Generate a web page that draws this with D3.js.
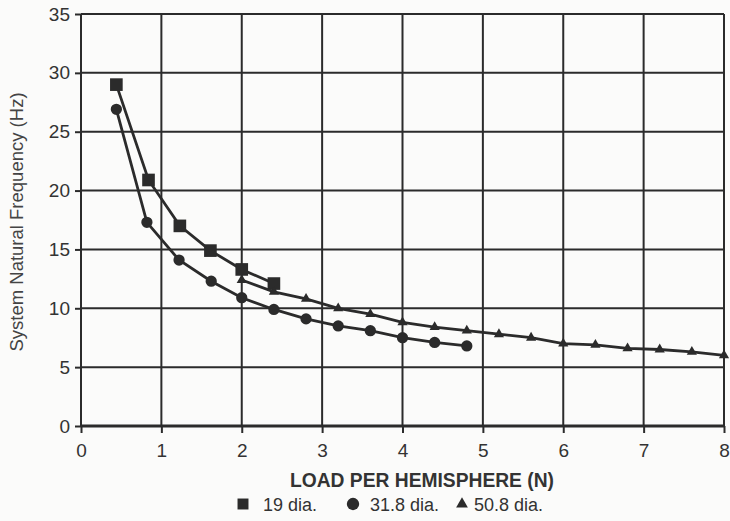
<!DOCTYPE html>
<html>
<head>
<meta charset="utf-8">
<script src="https://cdn.jsdelivr.net/npm/d3@7"></script>
<style>
  html, body { margin: 0; padding: 0; background: #fbfbfa; }
  svg { display: block; }
</style>
</head>
<body>
<figure id="chart" style="margin:0"></figure>
<script>
// values
const xTicks = [0, 1, 2, 3, 4, 5, 6, 7, 8];
const yTicks = [0, 5, 10, 15, 20, 25, 30, 35];

const seriesNames = ["19 dia.", "31.8 dia.", "50.8 dia."];

const loadSmall = [0.44, 0.84, 1.23, 1.61, 2.0, 2.4];
const freqSmall = [29.0, 20.9, 17.0, 14.9, 13.3, 12.1];

const loadMid = [0.44, 0.82, 1.22, 1.62, 2.0, 2.4, 2.8, 3.2, 3.6, 4.0, 4.4, 4.8];
const freqMid = [26.9, 17.3, 14.1, 12.3, 10.9, 9.9, 9.1, 8.5, 8.1, 7.5, 7.1, 6.8];

const loadLarge = [2.0, 2.4, 2.8, 3.2, 3.6, 4.0, 4.4, 4.8, 5.2, 5.6, 6.0, 6.4, 6.8, 7.2, 7.6, 8.0];
const freqLarge = [12.4, 11.4, 10.8, 10.0, 9.5, 8.8, 8.4, 8.1, 7.8, 7.5, 7.0, 6.9, 6.6, 6.5, 6.3, 6.0];

const width = 730, height = 521;
const plotLeft = 81, plotRight = 724, plotTop = 14, plotBottom = 426;
const ink = "#2b2b2b";
const narrow = "'Liberation Sans Narrow', 'Arial Narrow', 'Liberation Sans', sans-serif";

const svg = d3.select("#chart").append("svg")
  .attr("width", width)
  .attr("height", height)
  .style("font-family", "'Liberation Sans', Arial, sans-serif");

const x = d3.scaleLinear().domain([0, 8]).range([plotLeft, plotRight]);
const y = d3.scaleLinear().domain([0, 35]).range([plotBottom, plotTop]);

// grid
svg.append("g")
  .selectAll("line.v")
  .data(xTicks)
  .enter().append("line")
  .attr("x1", d => x(d)).attr("x2", d => x(d))
  .attr("y1", y(35)).attr("y2", y(0))
  .attr("stroke", ink).attr("stroke-width", 2);

svg.append("g")
  .selectAll("line.h")
  .data(yTicks)
  .enter().append("line")
  .attr("x1", x(0)).attr("x2", x(8))
  .attr("y1", d => y(d)).attr("y2", d => y(d))
  .attr("stroke", ink).attr("stroke-width", d => d === 0 ? 3 : 2);

// axes (ticks + labels only)
const xAxis = svg.append("g")
  .attr("transform", "translate(0," + y(0) + ")")
  .call(d3.axisBottom(x).tickValues(xTicks).tickSize(7).tickPadding(11).tickFormat(d3.format("d")));
xAxis.select(".domain").remove();
xAxis.selectAll("line").attr("stroke", ink).attr("stroke-width", 2);
xAxis.selectAll("text").attr("fill", "#333").style("font-size", "19px");

const yAxis = svg.append("g")
  .attr("transform", "translate(" + x(0) + ",0)")
  .call(d3.axisLeft(y).tickValues(yTicks).tickSize(6).tickPadding(5).tickFormat(d3.format("d")));
yAxis.select(".domain").remove();
yAxis.selectAll("line").attr("stroke", ink).attr("stroke-width", 2);
yAxis.selectAll("text").attr("fill", "#333").style("font-size", "19px");

// axis titles
svg.append("text")
  .attr("x", 422).attr("y", 487)
  .attr("text-anchor", "middle")
  .attr("fill", "#333")
  .style("font-family", narrow)
  .style("font-size", "20px")
  .style("font-weight", "bold")
  .attr("textLength", 264)
  .attr("lengthAdjust", "spacingAndGlyphs")
  .text("LOAD PER HEMISPHERE (N)");

svg.append("text")
  .attr("transform", "translate(23,222) rotate(-90)")
  .attr("text-anchor", "middle")
  .attr("fill", "#444")
  .style("font-size", "18.5px")
  .text("System Natural Frequency (Hz)");

// series
const series = [
  { name: seriesNames[0], xs: loadSmall, ys: freqSmall, shape: d3.symbolSquare, size: 160 },
  { name: seriesNames[1], xs: loadMid, ys: freqMid, shape: d3.symbolCircle, size: 100 },
  { name: seriesNames[2], xs: loadLarge, ys: freqLarge, shape: d3.symbolTriangle, size: 45 }
];

const line = d3.line().x(d => x(d[0])).y(d => y(d[1]));

series.forEach(s => {
  const pts = s.xs.map((v, i) => [v, s.ys[i]]);
  svg.append("path")
    .datum(pts)
    .attr("d", line)
    .attr("fill", "none")
    .attr("stroke", ink)
    .attr("stroke-width", 2.8);

  svg.append("g")
    .selectAll("path")
    .data(pts)
    .enter().append("path")
    .attr("transform", d => "translate(" + x(d[0]) + "," + y(d[1]) + ")")
    .attr("d", d3.symbol().type(s.shape).size(s.size))
    .attr("fill", ink);
});

// legend
const legendX = [243, 353, 462];
const legendTextX = [263, 370, 474];
const legend = svg.append("g");
series.forEach((s, i) => {
  legend.append("path")
    .attr("transform", "translate(" + legendX[i] + ",504)")
    .attr("d", d3.symbol().type(s.shape).size(i === 2 ? 60 : 120))
    .attr("fill", ink);
  legend.append("text")
    .attr("x", legendTextX[i]).attr("y", 511)
    .attr("fill", "#333")
    .style("font-family", narrow)
    .style("font-size", "18px")
    .text(s.name);
});
</script>
</body>
</html>
